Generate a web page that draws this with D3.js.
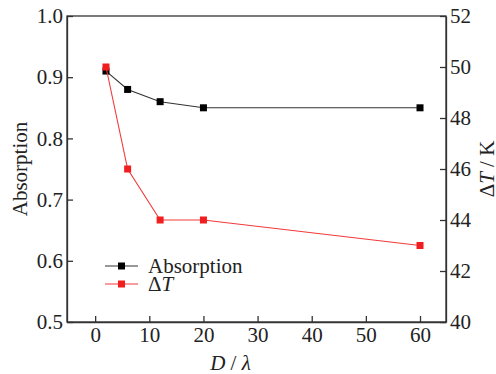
<!DOCTYPE html>
<html>
<head>
<meta charset="utf-8">
<script src="https://cdn.jsdelivr.net/npm/d3@7"></script>
<style>
  body { margin: 0; background: #fff; }
  svg text { font-family: 'Liberation Serif', 'DejaVu Serif', serif; fill: #222; }
</style>
</head>
<body>
<div id="chart"></div>
<script>
// data
const ratios = [2, 6, 12, 20, 60];
const absorption = [0.91, 0.88, 0.86, 0.85, 0.85];
const deltaT = [50, 46, 44, 44, 43];
const xTicks = [0, 10, 20, 30, 40, 50, 60];
const leftTicks = [0.5, 0.6, 0.7, 0.8, 0.9, 1.0];
const rightTicks = [40, 42, 44, 46, 48, 50, 52];

const serif = "'Liberation Serif', 'DejaVu Serif', serif";
const fs = "21px";

let margin = {top: 16, right: 50, bottom: 52, left: 67};
let width = 496, height = 374;
let innerWidth = width - margin.left - margin.right;
let innerHeight = height - margin.top - margin.bottom;

let svg = d3.select("#chart").append("svg")
  .attr("width", width)
  .attr("height", height)
  .style("font-family", serif);

let g = svg.append("g")
  .attr("transform", "translate(" + margin.left + "," + margin.top + ")");

// scales
let x = d3.scaleLinear().domain([-5.2, 64.8]).range([0, innerWidth]);
let yL = d3.scaleLinear().domain([0.5, 1.0]).range([innerHeight, 0]);
let yR = d3.scaleLinear().domain([40, 52]).range([innerHeight, 0]);

// frame
g.append("rect")
  .attr("width", innerWidth).attr("height", innerHeight)
  .attr("fill", "none").attr("stroke", "#333").attr("stroke-width", 1.3);

// axes, ticks pointing inward
let xAxis = d3.axisBottom(x).tickValues(xTicks).tickSizeInner(-6).tickSizeOuter(0).tickPadding(5);
let yAxisL = d3.axisLeft(yL).tickValues(leftTicks).tickFormat(d3.format(".1f")).tickSizeInner(-6).tickSizeOuter(0).tickPadding(4);
let yAxisR = d3.axisRight(yR).tickValues(rightTicks).tickSizeInner(-6).tickSizeOuter(0).tickPadding(4);

function styleAxis(sel) {
  sel.attr("font-family", null).attr("font-size", null);
  sel.select(".domain").attr("stroke", "#333").attr("stroke-width", 1.3);
  sel.selectAll(".tick line").attr("stroke", "#333").attr("stroke-width", 1.3);
  sel.selectAll(".tick text").attr("fill", "#222")
    .style("font-size", fs).style("font-family", serif);
}

g.append("g").attr("transform", "translate(0," + innerHeight + ")").call(xAxis).call(styleAxis);
g.append("g").call(yAxisL).call(styleAxis);
g.append("g").attr("transform", "translate(" + innerWidth + ",0)").call(yAxisR).call(styleAxis);

// series
let absData = ratios.map((d, i) => ({x: d, y: absorption[i]}));
let dtData = ratios.map((d, i) => ({x: d, y: deltaT[i]}));

let series = [
  {data: absData, scale: yL, color: "#333", fill: "#000"},
  {data: dtData, scale: yR, color: "#f23a3a", fill: "#f01e1e"}
];

series.forEach(s => {
  let line = d3.line().x(d => x(d.x)).y(d => s.scale(d.y));
  g.append("path").datum(s.data)
    .attr("fill", "none").attr("stroke", s.color).attr("stroke-width", 1.1)
    .attr("d", line);
  g.selectAll(null).data(s.data).join("rect")
    .attr("x", d => x(d.x) - 3.5).attr("y", d => s.scale(d.y) - 3.5)
    .attr("width", 7).attr("height", 7)
    .attr("fill", s.fill);
});

// legend
let legendItems = [
  {label: "Absorption", color: "#333", fill: "#000", y: 266},
  {label: "ΔT", color: "#f23a3a", fill: "#f01e1e", y: 284}
];
let legend = svg.append("g");
legendItems.forEach(d => {
  legend.append("line").attr("x1", 105).attr("x2", 138).attr("y1", d.y).attr("y2", d.y)
    .attr("stroke", d.color).attr("stroke-width", 1.1);
  legend.append("rect").attr("x", 118).attr("y", d.y - 3.5).attr("width", 7).attr("height", 7).attr("fill", d.fill);
  let t = legend.append("text").attr("x", 148).attr("y", d.y + 7).style("font-size", fs);
  if (d.label === "ΔT") {
    t.append("tspan").text("Δ");
    t.append("tspan").attr("font-style", "italic").text("T");
  } else {
    t.text(d.label);
  }
});

// axis titles
svg.append("text")
  .attr("transform", "translate(27," + (margin.top + innerHeight / 2) + ") rotate(-90)")
  .attr("text-anchor", "middle").style("font-size", fs)
  .text("Absorption");

let rt = svg.append("text")
  .attr("transform", "translate(494," + (margin.top + innerHeight / 2) + ") rotate(-90)")
  .attr("text-anchor", "middle").style("font-size", fs);
rt.append("tspan").text("Δ");
rt.append("tspan").attr("font-style", "italic").text("T");
rt.append("tspan").text(" / K");

let bt = svg.append("text")
  .attr("x", margin.left + x(25)).attr("y", 370)
  .attr("text-anchor", "middle").style("font-size", fs);
bt.append("tspan").attr("font-style", "italic").text("D");
bt.append("tspan").text(" / ");
bt.append("tspan").attr("font-style", "italic").text("λ");
</script>
</body>
</html>
